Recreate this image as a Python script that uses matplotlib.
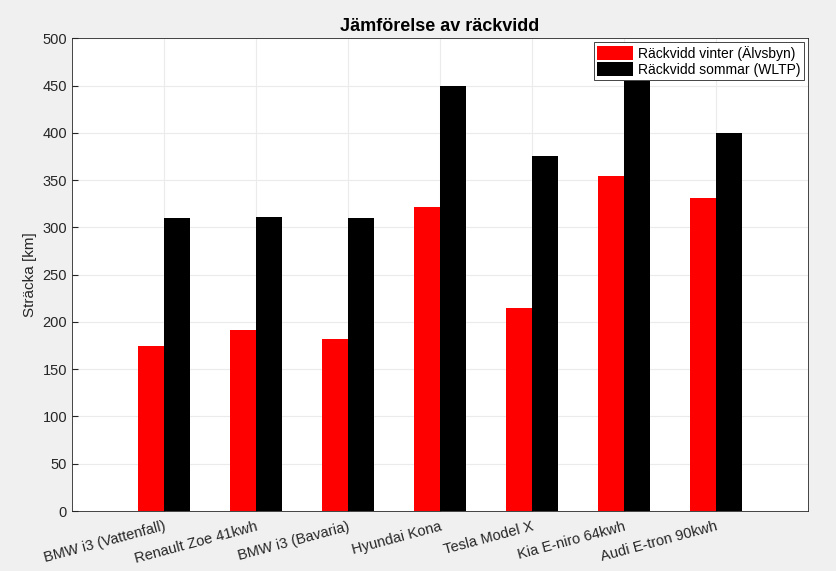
import numpy as np
import matplotlib
matplotlib.use("Agg")
import matplotlib.pyplot as plt

plt.rcParams["font.family"] = ["Liberation Sans", "DejaVu Sans"]

# Data
cars = [
    "BMW i3 (Vattenfall)",
    "Renault Zoe 41kwh",
    "BMW i3 (Bavaria)",
    "Hyundai Kona",
    "Tesla Model X",
    "Kia E-niro 64kwh",
    "Audi E-tron 90kwh",
]
winter = [175, 191, 182, 322, 215, 354, 331]
summer = [310, 311, 310, 450, 375, 455, 400]

fig = plt.figure(figsize=(8.37, 5.71), dpi=100, facecolor="#f0f0f0")
ax = fig.add_axes((0.086, 0.105, 0.879, 0.828))

x = np.arange(1, len(cars) + 1)
w = 0.285
ax.bar(x - w / 2, winter, w, color="#ff0000", label="Räckvidd vinter (Älvsbyn)", zorder=3)
ax.bar(x + w / 2, summer, w, color="black", label="Räckvidd sommar (WLTP)", zorder=3)

ax.set_xlim(0, 8)
ax.set_ylim(0, 500)
ax.set_yticks(np.arange(0, 501, 50))
ax.set_xticks(x)
ax.set_xticklabels(cars, rotation=15, ha="right", rotation_mode="anchor", fontsize=11)
ax.tick_params(direction="in", colors="#262626", labelsize=10.5, length=4)
ax.tick_params(axis="x", pad=6)
ax.grid(True, color="#ebebeb", linewidth=0.8, zorder=0)
for s in ax.spines.values():
    s.set_color("#262626")
    s.set_linewidth(0.6)

ax.set_ylabel("Sträcka [km]", fontsize=11, color="#262626")
ax.set_title("Jämförelse av räckvidd", fontsize=13, fontweight="bold", pad=5)

leg = ax.legend(loc="upper right", fontsize=10, handlelength=2.6, handleheight=1.1,
                borderpad=0.25, labelspacing=0.1, handletextpad=0.3,
                fancybox=False, framealpha=1, borderaxespad=0.3)
leg.get_frame().set_edgecolor("#262626")
leg.get_frame().set_linewidth(0.6)

fig.savefig("out.png", dpi=100, facecolor=fig.get_facecolor())
